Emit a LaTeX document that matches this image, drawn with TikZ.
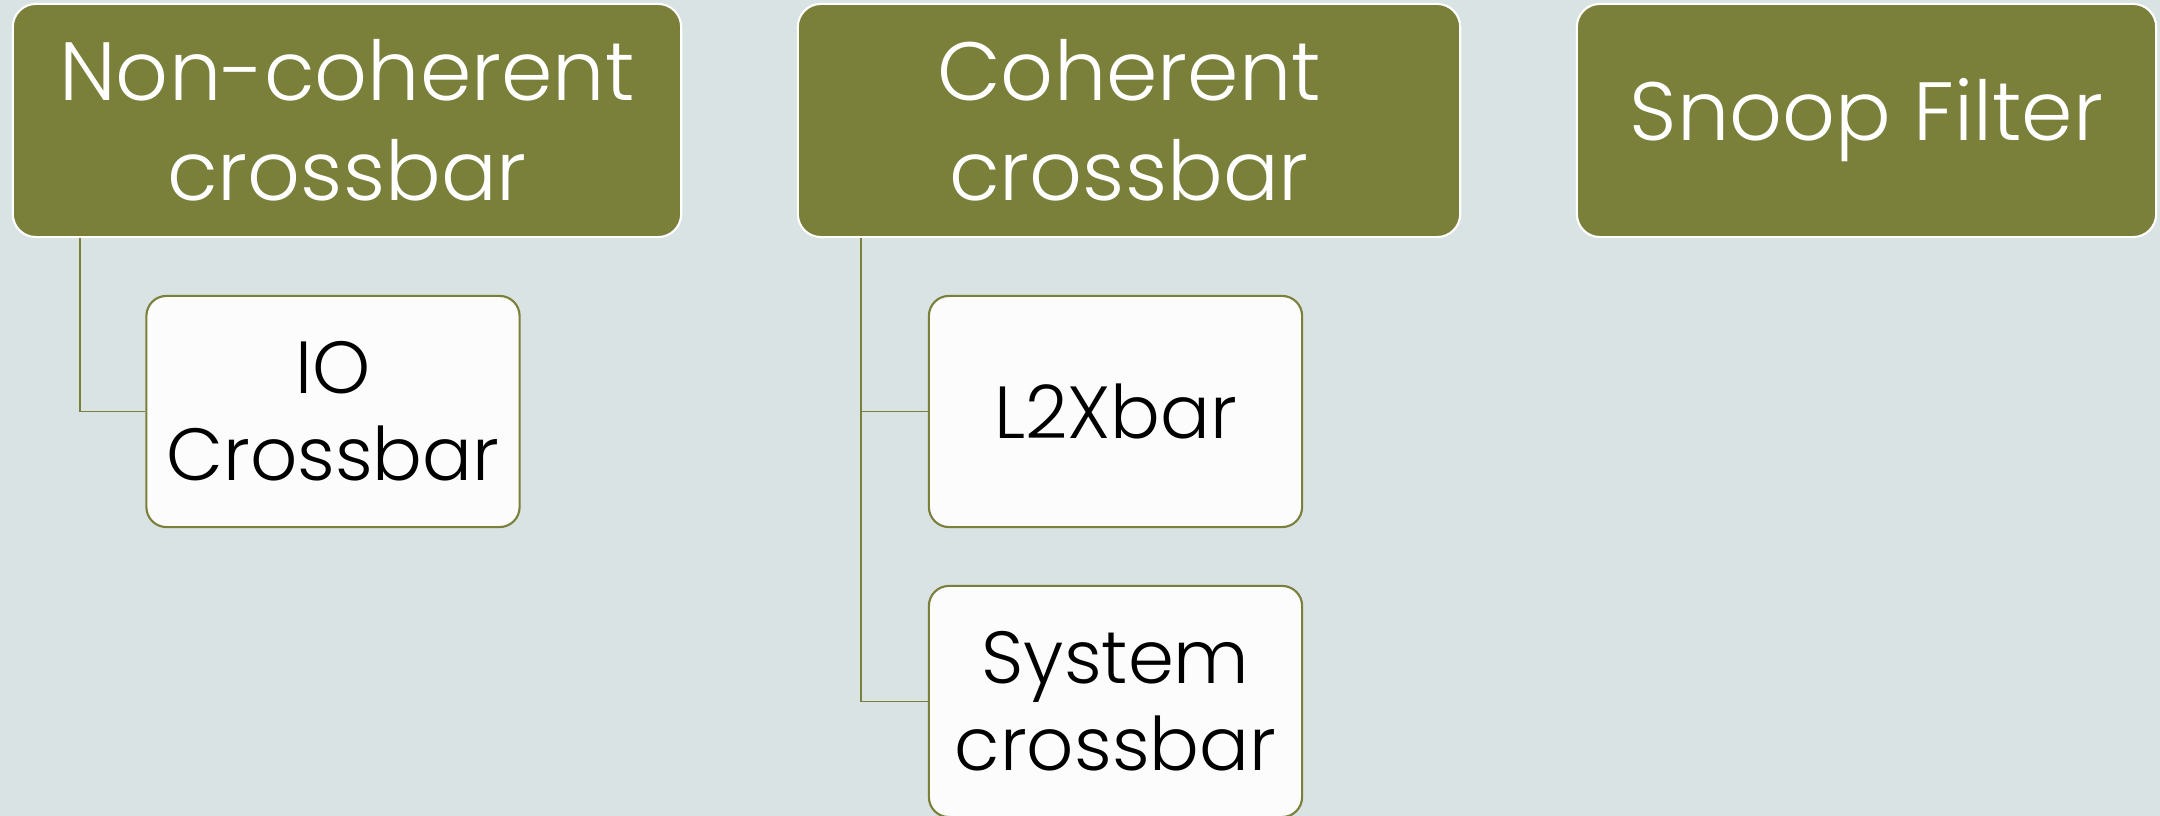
\documentclass[tikz,border=0pt]{standalone}
\usepackage{fontspec}
\setmainfont{Poppins}[UprightFont=* Light]
\definecolor{bg}{HTML}{DAE3E4}
\definecolor{olive}{HTML}{7A7F3A}
\definecolor{childfill}{HTML}{FBFCFB}
\tikzset{
  parentbox/.style={draw=white, line width=0.6pt, fill=olive, rounded corners=0.23cm,
    text=white, align=center, inner sep=0pt, minimum height=2.33cm,
    font=\fontsize{23.5}{28.4}\selectfont},
  childbox/.style={draw=olive, line width=0.6pt, fill=childfill, rounded corners=0.2cm,
    text=black, align=center, inner sep=0pt, minimum width=3.73cm, minimum height=2.31cm,
    font=\fontsize{21}{24.8}\selectfont},
  link/.style={draw=olive, line width=0.55pt}
}
\begin{document}
\begin{tikzpicture}[x=0.01cm,y=-0.01cm]
\useasboundingbox[fill=bg] (0,0) rectangle (2160,816);
\node[parentbox, minimum width=6.68cm] (nc) at (347,120.5) {Non-coherent\\crossbar};
\node[parentbox, minimum width=6.62cm] (coh) at (1129,120.5) {Coherent\\crossbar};
\node[parentbox, minimum width=5.79cm] (snoop) at (1866.5,120.5) {Snoop Filter};
\node[childbox] (io) at (333,411.5) {IO\\Crossbar};
\node[childbox] (l2) at (1115.5,411.5) {L2Xbar};
\node[childbox] (sys) at (1115.5,701.5) {System\\crossbar};
\draw[link] ([xshift=0.68cm]nc.south west) |- (io.west);
\draw[link] ([xshift=0.64cm]coh.south west) |- (l2.west);
\draw[link] ([xshift=0.64cm]coh.south west) |- (sys.west);
\end{tikzpicture}
\end{document}
